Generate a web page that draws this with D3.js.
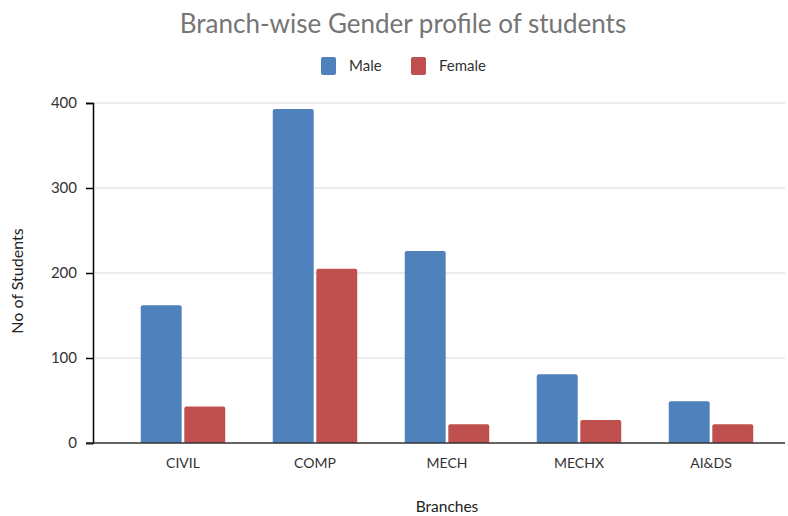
<!DOCTYPE html>
<html>
<head>
<meta charset="utf-8">
<script src="https://cdn.jsdelivr.net/npm/d3@7"></script>
<style>
  body { margin: 0; background: #fff; }
  text { font-family: Lato, "Open Sans", sans-serif; }
</style>
</head>
<body>
<div id="chart"></div>
<script>
// Chart data
const branches = ["CIVIL", "COMP", "MECH", "MECHX", "AI&DS"];
const maleCounts = [162, 393, 226, 81, 49];
const femaleCounts = [43, 205, 22, 27, 22];
const seriesNames = ["Male", "Female"];
const yTicks = [0, 100, 200, 300, 400];

const colors = { Male: "#4f81bd", Female: "#c0504d" };

const W = 788, H = 516;
const plot = { left: 93, right: 785, top: 103, bottom: 443 };

const svg = d3.select("#chart")
  .append("svg")
  .attr("width", W)
  .attr("height", H);

// Scales
const x0 = d3.scaleBand()
  .domain(branches)
  .range([117, 777])
  .paddingInner(0.36)
  .paddingOuter(0.18);

const x1 = d3.scaleBand()
  .domain(seriesNames)
  .range([0, x0.bandwidth()])
  .paddingInner(0.06);

const y = d3.scaleLinear()
  .domain([0, 400])
  .range([plot.bottom, plot.top]);

// Gridlines
svg.append("g")
  .selectAll("line")
  .data(yTicks.filter(d => d > 0))
  .enter()
  .append("line")
  .attr("x1", plot.left)
  .attr("x2", plot.right)
  .attr("y1", d => y(d))
  .attr("y2", d => y(d))
  .attr("stroke", "#d9d9d9")
  .attr("stroke-width", 1.2);

// Bars
const data = branches.map((b, i) => ({ branch: b, Male: maleCounts[i], Female: femaleCounts[i] }));

const groups = svg.append("g")
  .selectAll("g")
  .data(data)
  .enter()
  .append("g")
  .attr("transform", d => "translate(" + x0(d.branch) + ",0)");

groups.selectAll("path")
  .data(d => seriesNames.map(s => ({ key: s, value: d[s] })))
  .enter()
  .append("path")
  .attr("d", d => {
    const bx = x1(d.key), bw = x1.bandwidth();
    const top = y(d.value), base = y(0), r = 2;
    return "M" + bx + "," + base +
      "V" + (top + r) +
      "Q" + bx + "," + top + " " + (bx + r) + "," + top +
      "H" + (bx + bw - r) +
      "Q" + (bx + bw) + "," + top + " " + (bx + bw) + "," + (top + r) +
      "V" + base + "Z";
  })
  .attr("fill", d => colors[d.key]);

// Y axis
const yAxis = svg.append("g")
  .attr("transform", "translate(" + plot.left + ",0)")
  .call(d3.axisLeft(y).tickValues(yTicks).tickSize(7).tickPadding(9));
yAxis.select(".domain").attr("stroke", "#000").attr("stroke-width", 1.5);
yAxis.selectAll(".tick line").attr("stroke", "#000").attr("stroke-width", 1.5);
yAxis.selectAll(".tick text")
  .attr("font-size", "15px")
  .attr("fill", "#333")
  .style("font-family", "Lato, sans-serif");

// X axis line
svg.append("line")
  .attr("x1", plot.left - 7)
  .attr("x2", plot.right)
  .attr("y1", y(0))
  .attr("y2", y(0))
  .attr("stroke", "#333")
  .attr("stroke-width", 1.5);

// X labels
svg.append("g")
  .selectAll("text")
  .data(branches)
  .enter()
  .append("text")
  .attr("x", d => x0(d) + x0.bandwidth() / 2)
  .attr("y", 468)
  .attr("text-anchor", "middle")
  .attr("font-size", "14px")
  .attr("fill", "#333")
  .text(d => d);

// Axis titles
svg.append("text")
  .attr("x", 447)
  .attr("y", 512)
  .attr("text-anchor", "middle")
  .attr("font-size", "15.5px")
  .attr("fill", "#222")
  .text("Branches");

svg.append("text")
  .attr("transform", "translate(23,281) rotate(-90)")
  .attr("text-anchor", "middle")
  .attr("font-size", "16px")
  .attr("fill", "#222")
  .text("No of Students");

// Title
svg.append("text")
  .attr("x", 403)
  .attr("y", 33)
  .attr("text-anchor", "middle")
  .attr("font-size", "26px")
  .attr("fill", "#757575")
  .text("Branch-wise Gender profile of students");

// Legend
const legendItems = [
  { name: "Male", x: 321 },
  { name: "Female", x: 411 }
];
const legend = svg.append("g")
  .selectAll("g")
  .data(legendItems)
  .enter()
  .append("g")
  .attr("transform", d => "translate(" + d.x + ",57)");
legend.append("rect")
  .attr("width", 15)
  .attr("height", 18)
  .attr("rx", 2)
  .attr("fill", d => colors[d.name]);
legend.append("text")
  .attr("x", 28)
  .attr("y", 14)
  .attr("font-size", "15px")
  .attr("fill", "#333")
  .text(d => d.name);
</script>
</body>
</html>
